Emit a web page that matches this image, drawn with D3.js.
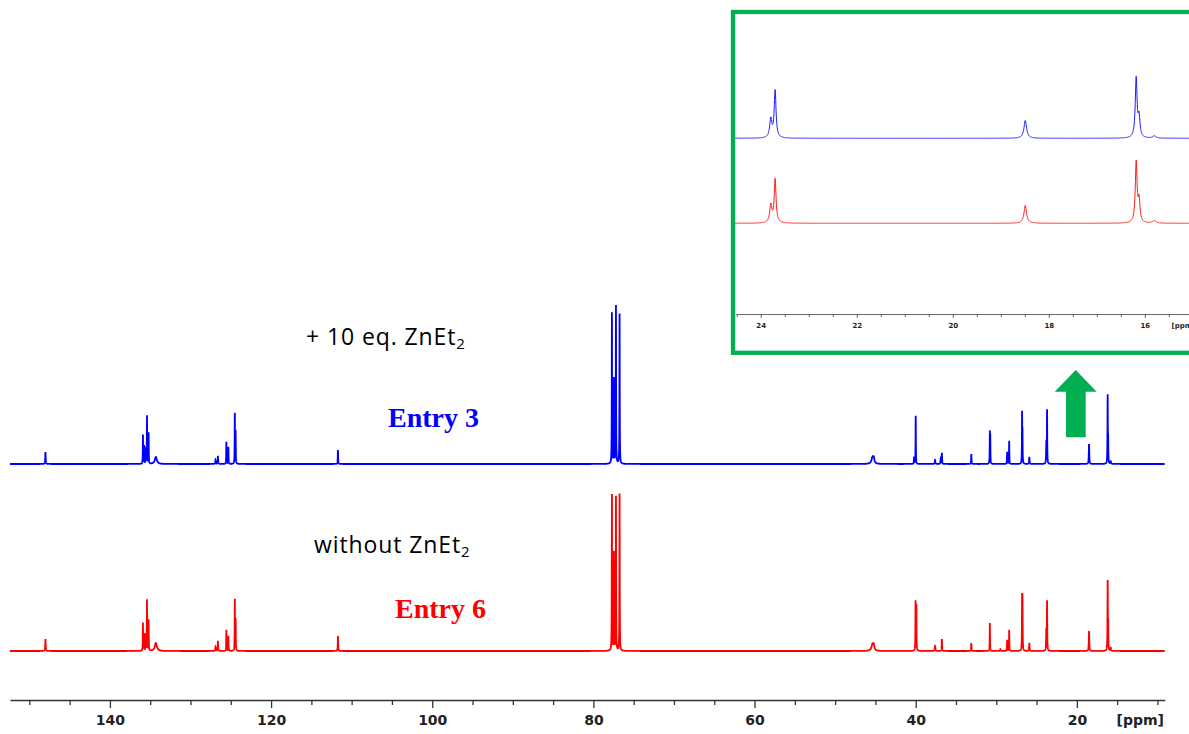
<!DOCTYPE html>
<html>
<head>
<meta charset="utf-8">
<script src="https://cdn.jsdelivr.net/npm/d3@7"></script>
<style>
  body { margin: 0; background: #fff; }
  svg { display: block; }
</style>
</head>
<body>
<svg id="chart" width="1189" height="734"></svg>
<script>
// 13C NMR peak lists: [chemical shift (ppm), relative intensity, linewidth (ppm)]
const entry3Peaks = [
  [148.0, 12, 0.06],
  [135.9, 29, 0.04], [135.75, 18, 0.04], [135.55, 16, 0.04], [135.4, 48, 0.04], [135.2, 31, 0.04],
  [134.3, 7, 0.3],
  [126.9, 4, 0.06], [126.6, 8, 0.06],
  [125.55, 22, 0.04], [125.3, 17, 0.04],
  [124.5, 50, 0.04], [124.4, 32, 0.04],
  [111.7, 14, 0.05],
  [77.7, 151, 0.04], [77.45, 85, 0.04], [77.2, 158, 0.04], [76.75, 150, 0.04],
  [45.35, 7, 0.3], [45.2, 4, 0.15],
  [40.2, 7, 0.05], [40.0, 48, 0.04],
  [37.6, 4, 0.08], [36.9, 5, 0.06], [36.75, 11, 0.05],
  [33.1, 10, 0.05],
  [30.8, 30, 0.04], [30.75, 26, 0.04],
  [28.65, 12, 0.05], [28.4, 23, 0.04],
  [26.8, 49, 0.04], [26.75, 30, 0.04],
  [25.9, 7, 0.06],
  [23.79, 21, 0.055], [23.70, 53, 0.045],
  [18.49, 20, 0.065],
  [16.18, 67, 0.045], [16.12, 22, 0.045],
  [15.8, 2.5, 0.08]
];

const entry6Peaks = [
  [148.0, 12, 0.06],
  [135.9, 28, 0.04], [135.75, 17, 0.04], [135.55, 16, 0.04], [135.4, 51, 0.04], [135.2, 31, 0.04],
  [134.3, 8, 0.3],
  [126.9, 4, 0.06], [126.6, 10, 0.06],
  [125.55, 21, 0.04], [125.3, 15, 0.04],
  [124.5, 51, 0.04], [124.4, 31, 0.04],
  [111.7, 15, 0.05],
  [77.7, 156, 0.04], [77.45, 98, 0.04], [77.2, 154, 0.04], [76.75, 157, 0.04],
  [45.35, 7, 0.3], [45.2, 4, 0.15],
  [40.02, 49, 0.04], [39.92, 45, 0.04],
  [37.6, 5, 0.08], [36.75, 12, 0.05],
  [33.1, 8, 0.05],
  [30.8, 28, 0.04],
  [29.5, 2, 0.08],
  [28.65, 11, 0.05], [28.4, 21, 0.04],
  [26.8, 51, 0.04], [26.75, 50, 0.04],
  [25.9, 8, 0.06],
  [23.79, 20, 0.055], [23.70, 49, 0.045],
  [18.49, 20, 0.065],
  [16.18, 68, 0.045], [16.12, 24, 0.045],
  [15.8, 3, 0.08]
];

// axis ticks (ppm)
const mainTickLabels = [140, 120, 100, 80, 60, 40, 20];
const mainMinorTicks = d3.range(150, 5, -5).filter(v => v % 20 !== 0);
const insetTickLabels = [24, 22, 20, 18, 16];
const insetMinorTicks = d3.range(24.5, 15, -0.5).filter(v => v % 2 !== 0);

// spectrum annotations
const spectrumLabels = [
  { entry: "Entry 3", condition: "+ 10 eq. ZnEt", color: "#0000ff" },
  { entry: "Entry 6", condition: "without ZnEt", color: "#ff0000" }
];

const svg = d3.select("#chart");

// Lorentzian line shape sum sampled over a ppm window
function trace(peaks, hi, lo, step) {
  const grid = d3.range(hi, lo, -step)
    .concat(peaks.map(p => p[0]).filter(c => c <= hi && c >= lo))
    .sort((a, b) => b - a);
  return grid.map(v => {
    let s = 0;
    for (const [c, h, w] of peaks) {
      const d = (v - c) / (w / 2);
      s += h / (1 + d * d);
    }
    return [v, s];
  });
}

// ---------- main spectrum ----------
const x = d3.scaleLinear().domain([152.4, 9.1]).range([10, 1164.7]);
const yEntry3 = d3.scaleLinear().domain([0, 100]).range([464, 364]);
const yEntry6 = d3.scaleLinear().domain([0, 100]).range([651, 551]);

const mainData3 = trace(entry3Peaks, 152.4, 9.1, 0.005);
const mainData6 = trace(entry6Peaks, 152.4, 9.1, 0.005);

svg.append("path")
  .datum(mainData3)
  .attr("fill", "none")
  .attr("stroke", "#0000ff")
  .attr("stroke-width", 1.8)
  .attr("d", d3.line().x(d => x(d[0])).y(d => yEntry3(d[1])));

svg.append("path")
  .datum(mainData6)
  .attr("fill", "none")
  .attr("stroke", "#ff0000")
  .attr("stroke-width", 1.8)
  .attr("d", d3.line().x(d => x(d[0])).y(d => yEntry6(d[1])));

// main axis: minor ticks, then labelled major ticks
const axisY = 700;
svg.append("g")
  .attr("transform", `translate(0,${axisY})`)
  .call(d3.axisBottom(x).tickValues(mainMinorTicks).tickSize(5).tickSizeOuter(0).tickFormat(""))
  .call(g => g.select(".domain").remove())
  .call(g => g.selectAll("line").attr("stroke", "#333").attr("stroke-width", 1.3));

svg.append("g")
  .attr("transform", `translate(0,${axisY})`)
  .call(d3.axisBottom(x).tickValues(mainTickLabels).tickSize(8).tickSizeOuter(0).tickPadding(7))
  .call(g => g.select(".domain").attr("stroke", "#333").attr("stroke-width", 1.3))
  .call(g => g.selectAll("line").attr("stroke", "#333").attr("stroke-width", 1.3))
  .call(g => g.selectAll("text")
    .attr("font-family", "DejaVu Sans")
    .attr("font-weight", "bold")
    .attr("font-size", 14)
    .attr("fill", "#222"));

svg.append("text")
  .attr("x", 1164)
  .attr("y", 725)
  .attr("text-anchor", "end")
  .attr("font-family", "DejaVu Sans")
  .attr("font-weight", "bold")
  .attr("font-size", 14)
  .attr("fill", "#222")
  .text("[ppm]");

// ---------- annotations ----------
function conditionLabel(lbl, px, py) {
  const t = svg.append("text")
    .attr("x", px).attr("y", py)
    .attr("font-family", "Open Sans")
    .attr("font-size", 23)
    .attr("letter-spacing", 0.9)
    .attr("fill", "#000");
  t.append("tspan").text(lbl.condition);
  t.append("tspan").attr("font-size", 15).attr("dy", 4).text("2");
}
conditionLabel(spectrumLabels[0], 306, 345);
conditionLabel(spectrumLabels[1], 314, 553);

svg.append("text")
  .attr("x", 388).attr("y", 427)
  .attr("font-family", "Liberation Serif")
  .attr("font-weight", "bold")
  .attr("font-size", 28)
  .attr("fill", spectrumLabels[0].color)
  .text(spectrumLabels[0].entry);

svg.append("text")
  .attr("x", 395).attr("y", 618)
  .attr("font-family", "Liberation Serif")
  .attr("font-weight", "bold")
  .attr("font-size", 28)
  .attr("fill", spectrumLabels[1].color)
  .text(spectrumLabels[1].entry);

// green arrow pointing up to the expansion
svg.append("path")
  .attr("d", "M1075.7,370 L1096.7,391.7 L1085.7,391.7 L1085.7,437.3 L1066,437.3 L1066,391.7 L1054.7,391.7 Z")
  .attr("fill", "#00b050");

// ---------- inset expansion (15–24.5 ppm) ----------
const inset = svg.append("g");
svg.append("defs").append("clipPath").attr("id", "insetClip")
  .append("rect").attr("x", 735).attr("y", 14).attr("width", 460).attr("height", 337);

const xi = d3.scaleLinear().domain([24.515, 15.08]).range([736, 1189]);
const yiEntry3 = d3.scaleLinear().domain([0, 100]).range([138.3, 49.3]);
const yiEntry6 = d3.scaleLinear().domain([0, 100]).range([223.3, 134.3]);

const insetData3 = trace(entry3Peaks, 24.6, 15.0, 0.004);
const insetData6 = trace(entry6Peaks, 24.6, 15.0, 0.004);

const insetPlot = inset.append("g").attr("clip-path", "url(#insetClip)");
insetPlot.append("path")
  .datum(insetData3)
  .attr("fill", "none")
  .attr("stroke", "#1a1aff")
  .attr("stroke-width", 1)
  .attr("d", d3.line().x(d => xi(d[0])).y(d => yiEntry3(d[1])));
insetPlot.append("path")
  .datum(insetData6)
  .attr("fill", "none")
  .attr("stroke", "#ff1a1a")
  .attr("stroke-width", 1)
  .attr("d", d3.line().x(d => xi(d[0])).y(d => yiEntry6(d[1])));

const insetAxisY = 314;
insetPlot.append("g")
  .attr("transform", `translate(0,${insetAxisY})`)
  .call(d3.axisBottom(xi).tickValues(insetMinorTicks).tickSize(3).tickSizeOuter(0).tickFormat(""))
  .call(g => g.select(".domain").remove())
  .call(g => g.selectAll("line").attr("stroke", "#444").attr("stroke-width", 0.8));
insetPlot.append("g")
  .attr("transform", `translate(0,${insetAxisY})`)
  .call(d3.axisBottom(xi).tickValues(insetTickLabels).tickSize(4).tickSizeOuter(0).tickPadding(5))
  .call(g => g.select(".domain").attr("stroke", "#444").attr("stroke-width", 0.8))
  .call(g => g.selectAll("line").attr("stroke", "#444").attr("stroke-width", 0.8))
  .call(g => g.selectAll("text")
    .attr("font-family", "DejaVu Sans")
    .attr("font-weight", "bold")
    .attr("font-size", 7)
    .attr("fill", "#222"));
// unit label, running into the frame's open right side
insetPlot.append("text")
  .attr("x", 1171.5).attr("y", 327.5)
  .attr("font-family", "DejaVu Sans")
  .attr("font-weight", "bold")
  .attr("font-size", 7)
  .attr("fill", "#222")
  .text("[ppm]");

// green frame around the expansion
inset.append("rect")
  .attr("x", 733).attr("y", 12)
  .attr("width", 470).attr("height", 340.8)
  .attr("fill", "none")
  .attr("stroke", "#00b050")
  .attr("stroke-width", 4.3);
</script>
</body>
</html>
